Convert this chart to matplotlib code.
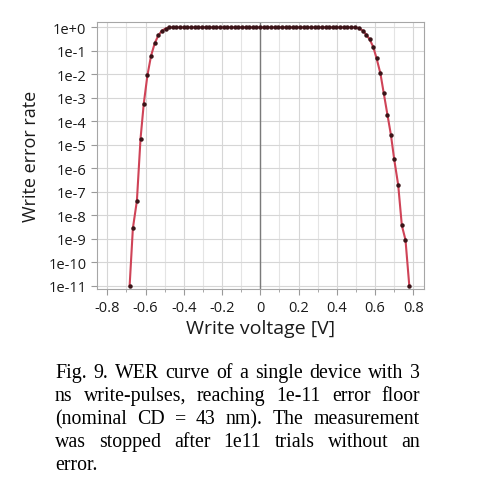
import numpy as np
import matplotlib
matplotlib.use("Agg")
import matplotlib.pyplot as plt
from matplotlib.ticker import FixedLocator, MultipleLocator

# left flank (V, log10 WER)
v_left = [-0.683, -0.666, -0.645, -0.626, -0.609, -0.590, -0.571, -0.552, -0.533, -0.514, -0.495]
e_left = [-11.0, -8.55, -7.38, -4.74, -3.24, -2.04, -1.21, -0.68, -0.34, -0.14, -0.05]

# plateau
v_flat = [-0.476, -0.457, -0.438, -0.419, -0.400, -0.381, -0.362, -0.343, -0.324, -0.305,
          -0.286, -0.267, -0.248, -0.229, -0.210, -0.191, -0.172, -0.153, -0.134, -0.115,
          -0.096, -0.077, -0.058, -0.039, -0.020, -0.001, 0.018, 0.037, 0.056, 0.075,
          0.094, 0.113, 0.132, 0.151, 0.170, 0.189, 0.208, 0.227, 0.246, 0.265,
          0.284, 0.303, 0.322, 0.341, 0.360, 0.379, 0.398, 0.417, 0.436, 0.455,
          0.474, 0.497]
e_flat = [0.0] * len(v_flat)

# right flank
v_right = [0.516, 0.537, 0.554, 0.571, 0.590, 0.608, 0.628, 0.645, 0.665, 0.683,
           0.700, 0.721, 0.740, 0.759, 0.779]
e_right = [-0.04, -0.14, -0.31, -0.50, -0.82, -1.32, -1.96, -2.78, -3.73, -4.58,
           -5.61, -6.71, -8.43, -9.04, -11.0]

volts = np.array(v_left + v_flat + v_right)
wer = 10.0 ** np.array(e_left + e_flat + e_right)

ytick_vals = [10.0 ** -k for k in range(12)]
ytick_labels = ["1e+0"] + ["1e-%d" % k for k in range(1, 12)]
xtick_vals = [-0.8, -0.6, -0.4, -0.2, 0, 0.2, 0.4, 0.6, 0.8]
xtick_labels = ["-0.8", "-0.6", "-0.4", "-0.2", "0", "0.2", "0.4", "0.6", "0.8"]

caption = ["Fig. 9. WER curve of a single device with 3",
           "ns write-pulses, reaching 1e-11 error floor",
           "(nominal CD = 43 nm). The measurement",
           "was stopped after 1e11 trials without an",
           "error."]

plt.rcParams['font.family'] = ['Open Sans', 'DejaVu Sans']

fig = plt.figure(figsize=(4.8, 5.02), dpi=100)
ax = fig.add_axes([0.2015, 0.422, 0.6815, 0.532])

ax.set_yscale("log")
ax.set_xlim(-0.855, 0.855)
ax.set_ylim(10 ** -11.14, 10 ** 0.226)

ax.set_axisbelow(True)
ax.xaxis.set_minor_locator(MultipleLocator(0.1))
ax.grid(True, which="major", axis="both", color="#d6d6d6", lw=0.8)
ax.grid(True, which="minor", axis="x", color="#e4e4e4", lw=0.8)
ax.yaxis.set_minor_locator(FixedLocator([]))
ax.axvline(0, color="#7a7a7a", lw=1.0, zorder=2)

ax.plot(volts, wer, color="#cf4357", lw=1.5, zorder=3)
ax.plot(volts, wer, "o", color="#3a1418", ms=2.2, zorder=4)

ax.set_yticks(ytick_vals)
ax.set_yticklabels(ytick_labels)
ax.set_xticks(xtick_vals)
ax.set_xticklabels(xtick_labels)
ax.tick_params(labelsize=10.5, colors="#1a1a1a", length=4, color="#9a9a9a")
ax.tick_params(which="minor", length=2.5, color="#9a9a9a")
for s in ax.spines.values():
    s.set_color("#a6a6a6")

ax.set_xlabel("Write voltage [V]", fontsize=14, color="#1a1a1a", labelpad=3)
ax.set_ylabel("Write error rate", fontsize=13, color="#1a1a1a", labelpad=6)

# justified caption
fig.canvas.draw()
r = fig.canvas.get_renderer()
x_left, x_right = 55, 420
y0, dy = 378, 23
H = fig.bbox.height
cap_font = dict(family="Liberation Serif", fontsize=14.3, color="black")
for i, line in enumerate(caption):
    yb = 1 - (y0 + i * dy) / H
    words = line.split(" ")
    last = i == len(caption) - 1
    if last or len(words) == 1:
        fig.text(x_left / 480, yb, line, va="baseline", ha="left", **cap_font)
        continue
    widths = []
    for w in words:
        t = fig.text(0, 0, w, **cap_font)
        widths.append(t.get_window_extent(r).width)
        t.remove()
    gap = (x_right - x_left - sum(widths)) / (len(words) - 1)
    x = x_left
    for w, wd in zip(words, widths):
        fig.text(x / 480, yb, w, va="baseline", ha="left", **cap_font)
        x += wd + gap

fig.savefig("out.png", dpi=100)
